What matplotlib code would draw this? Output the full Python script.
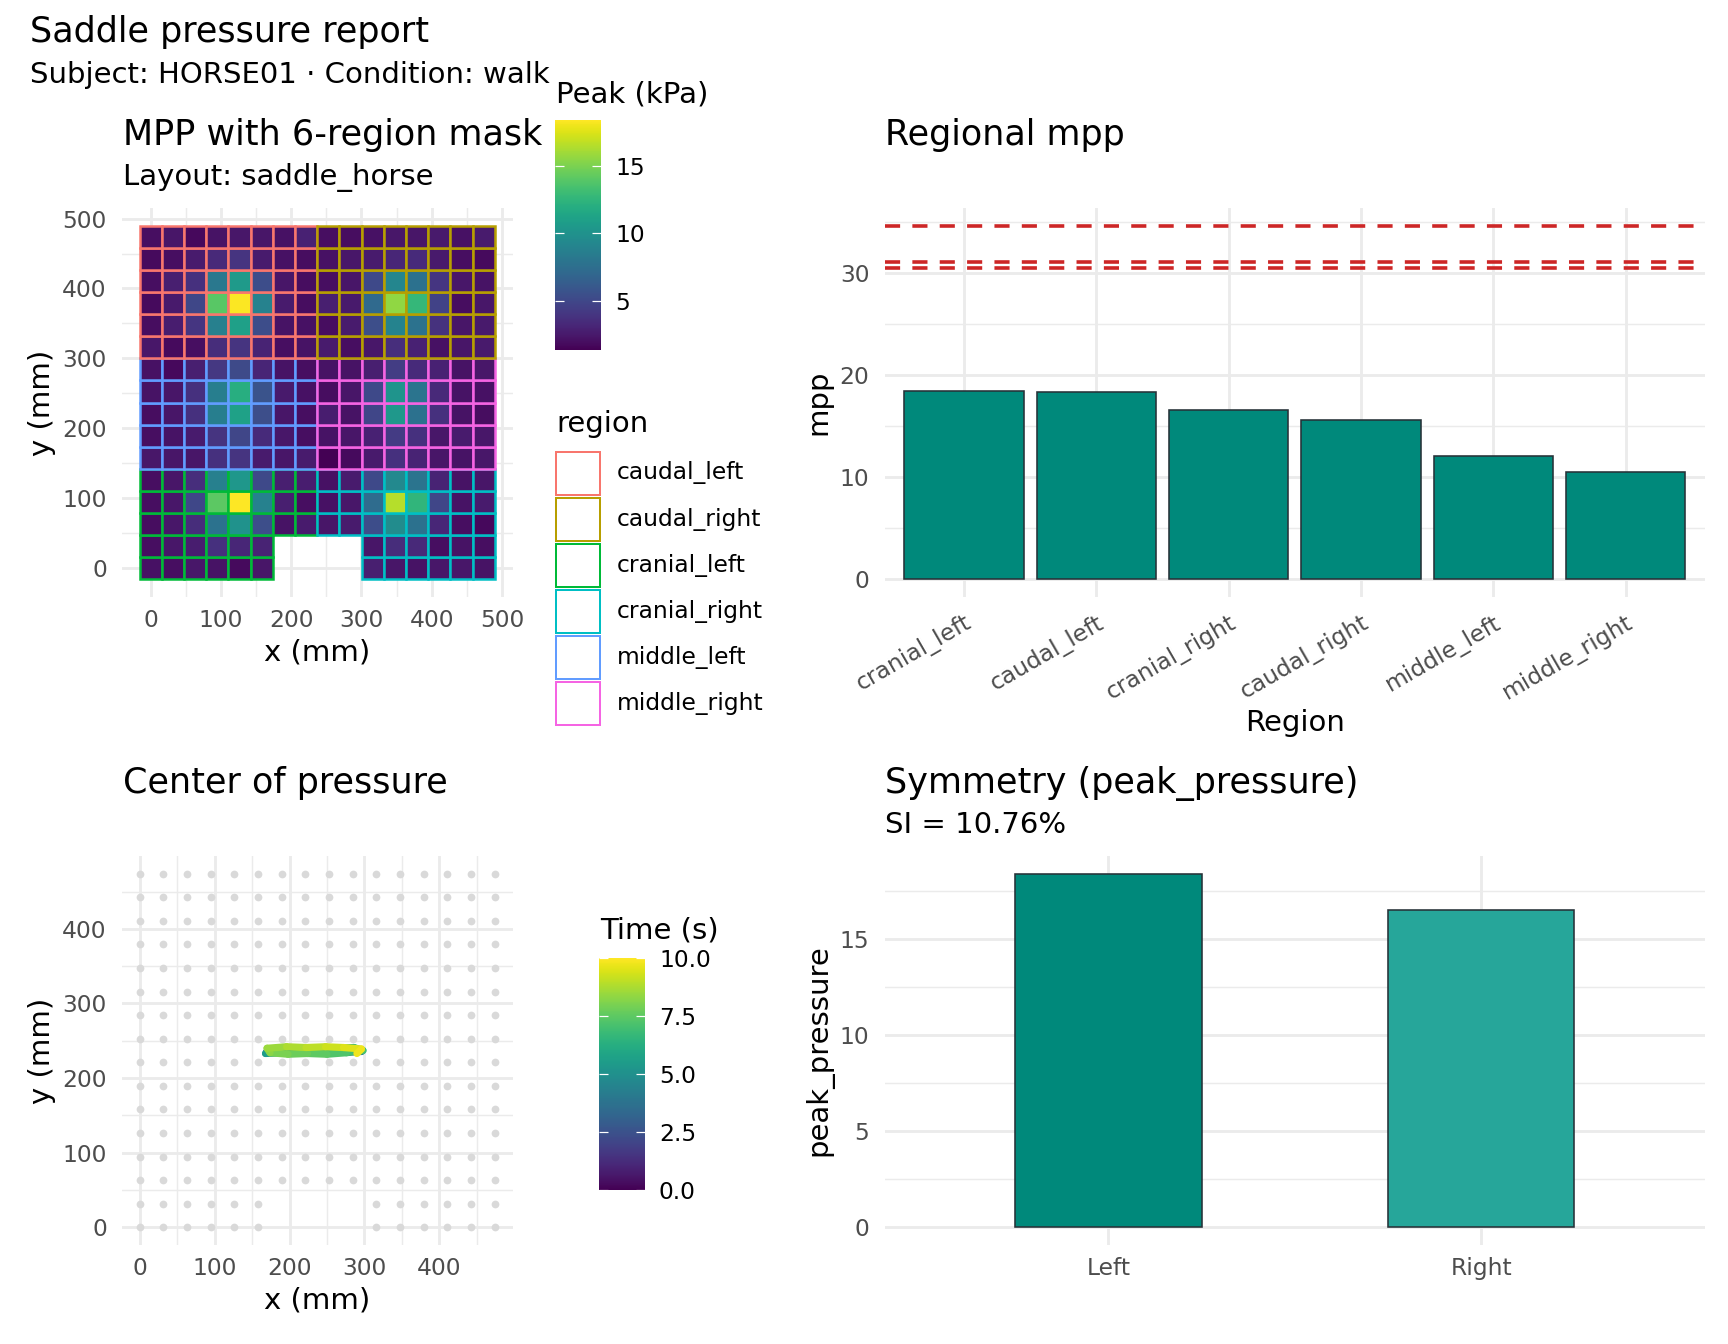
import numpy as np
import matplotlib
matplotlib.use("Agg")
import matplotlib.pyplot as plt
from matplotlib.collections import LineCollection
from matplotlib.colors import Normalize
from matplotlib.patches import Rectangle
from matplotlib.cm import ScalarMappable

# ---- data -----------------------------------------------------------------
sensor_x = [0.0, 31.6, 63.2, 94.8, 126.4, 158.0, 189.6, 221.2,
            252.8, 284.4, 316.0, 347.6, 379.2, 410.8, 442.4, 474.0]
sensor_y = [0.0, 31.6, 63.2, 94.8, 126.4, 158.0, 189.6, 221.2,
            252.8, 284.4, 316.0, 347.6, 379.2, 410.8, 442.4, 474.0]
pitch = 31.6
nan = np.nan

# peak pressure (kPa), rows listed from top (y=474) to bottom (y=0)
peak_rows = [
    [2.0, 2.3, 1.7, 2.2, 2.4, 2.3, 2.1, 2.9, 2.0, 1.9, 2.1, 2.4, 2.3, 2.5, 2.1, 2.6],
    [1.8, 2.0, 2.6, 3.3, 3.9, 2.6, 2.1, 1.9, 2.1, 2.4, 2.6, 3.2, 3.4, 2.5, 2.0, 1.8],
    [2.0, 2.8, 3.7, 8.2, 10.6, 5.3, 2.3, 1.9, 2.0, 2.3, 5.1, 9.2, 7.7, 4.0, 2.4, 2.2],
    [1.8, 2.5, 5.0, 14.0, 18.31, 8.9, 2.6, 1.9, 2.8, 2.5, 7.2, 15.56, 12.7, 4.7, 1.9, 2.4],
    [1.9, 2.7, 4.0, 8.7, 11.0, 5.3, 2.2, 2.1, 1.9, 2.6, 5.4, 9.0, 7.8, 3.8, 2.3, 2.5],
    [2.4, 1.8, 2.0, 3.5, 3.9, 3.0, 2.0, 2.2, 2.6, 2.0, 2.4, 3.6, 2.9, 2.1, 2.3, 2.5],
    [2.1, 1.7, 2.8, 4.1, 5.2, 3.1, 2.2, 2.0, 2.2, 2.2, 2.8, 4.4, 3.4, 2.9, 2.2, 2.4],
    [2.2, 2.3, 3.7, 8.6, 12.03, 5.7, 2.5, 2.1, 1.9, 2.3, 5.1, 10.2, 7.9, 3.3, 2.2, 2.1],
    [1.9, 2.3, 3.7, 8.6, 11.1, 5.4, 2.3, 2.0, 2.7, 2.2, 4.9, 10.46, 7.7, 3.7, 2.2, 1.9],
    [2.0, 2.2, 2.6, 3.9, 4.9, 3.4, 2.4, 2.0, 2.2, 2.3, 2.9, 4.3, 3.7, 2.4, 2.6, 2.4],
    [2.4, 2.3, 2.3, 3.7, 3.9, 2.6, 2.3, 2.6, 1.34, 1.8, 2.5, 3.7, 3.0, 2.3, 2.2, 2.4],
    [2.0, 2.3, 3.6, 8.7, 10.4, 5.1, 2.8, 2.7, 2.1, 2.6, 5.1, 9.4, 7.9, 3.0, 2.2, 2.3],
    [2.0, 2.4, 5.0, 14.1, 18.40, 8.8, 2.8, 2.0, 2.1, 2.4, 7.3, 16.53, 12.5, 4.9, 2.2, 2.6],
    [1.9, 2.4, 3.5, 7.8, 10.0, 5.4, 2.2, 2.6, 2.3, 2.6, 5.3, 9.6, 7.7, 3.2, 2.0, 1.7],
    [2.0, 2.4, 2.7, 3.7, 3.2, 3.0, nan, nan, nan, nan, 2.3, 3.5, 3.3, 2.0, 2.2, 2.0],
    [2.1, 2.0, 2.4, 2.2, 1.8, 2.3, nan, nan, nan, nan, 2.8, 2.3, 2.2, 2.4, 2.4, 2.2],
]

# region mask: zone per sensor row (bottom -> top), side split at column 8
row_zone = ["cranial"] * 5 + ["middle"] * 5 + ["caudal"] * 6
split_col = 8
region_names = ["caudal_left", "caudal_right", "cranial_left",
                "cranial_right", "middle_left", "middle_right"]
region_colors = ["#F8766D", "#B79F00", "#00BA38", "#00BFC4", "#619CFF", "#F564E3"]

# regional mpp
bar_regions = ["cranial_left", "caudal_left", "cranial_right",
               "caudal_right", "middle_left", "middle_right"]
bar_mpp = [18.40, 18.31, 16.53, 15.56, 12.03, 10.46]
threshold_lines = [34.6, 31.08, 30.42]

# symmetry
sym_sides = ["Left", "Right"]
sym_values = [18.40, 16.53]
sym_colors = ["#00897B", "#26A69A"]
si_text = "SI = 10.76%"

# centre of pressure trace
cop_t = [0.0, 0.25, 0.5, 0.75, 1.0, 1.25, 1.5, 1.75, 2.0, 2.25, 2.5, 2.75,
         3.0, 3.25, 3.5, 3.75, 4.0, 4.25, 4.5, 4.75, 5.0, 5.25, 5.5, 5.75,
         6.0, 6.25, 6.5, 6.75, 7.0, 7.25, 7.5, 7.75, 8.0, 8.25, 8.5, 8.75,
         9.0, 9.25, 9.5, 9.75, 10.0]
cop_x = [205, 230, 255, 280, 294, 280, 255, 230, 205, 180, 170, 190,
         215, 240, 265, 290, 296, 272, 246, 220, 195, 172, 168, 190,
         214, 238, 262, 286, 298, 276, 250, 224, 198, 174, 170, 196,
         222, 248, 272, 296, 290]
cop_y = [237, 238, 237, 238, 236, 235, 236, 237, 236, 237, 236, 238,
         237, 236, 237, 238, 236, 236, 237, 238, 239, 237, 233, 234,
         236, 239, 240, 241, 237, 234, 232, 233, 232, 234, 240, 242,
         241, 242, 241, 239, 233]

# ---- layout helpers (pixel coords of a 1728x1344 canvas) ------------------
W, H = 1728, 1344
fig = plt.figure(figsize=(W / 144, H / 144), dpi=144)
plt.rcParams["font.family"] = "DejaVu Sans"

TITLE = 17.5
BASE = 14.58
SMALL = 11.67

def rect(left, top, right, bottom):
    return [left / W, 1 - bottom / H, (right - left) / W, (bottom - top) / H]

def ftext(x, y, s, **kw):
    kw.setdefault("va", "baseline")
    return fig.text(x / W, 1 - y / H, s, **kw)

GRID = "#EBEBEB"
TICK = "#4D4D4D"

def minimal(ax, pad_x=6.0, pad_y=7.6):
    for sp in ax.spines.values():
        sp.set_visible(False)
    ax.set_axisbelow(True)
    ax.grid(True, which="major", color=GRID, linewidth=1.42)
    ax.grid(True, which="minor", color=GRID, linewidth=0.71)
    ax.tick_params(which="both", length=0, labelsize=SMALL, labelcolor=TICK)
    ax.tick_params(axis="x", pad=pad_x)
    ax.tick_params(axis="y", pad=pad_y)

def expand(lo, hi, frac=0.05):
    d = (hi - lo) * frac
    return lo - d, hi + d

def colourbar(norm, box, ticks, labels=None):
    cax = fig.add_axes(rect(*box))
    cb = fig.colorbar(ScalarMappable(norm=norm, cmap=viridis), cax=cax)
    cb.outline.set_visible(False)
    cb.set_ticks(ticks)
    if labels is not None:
        cb.set_ticklabels(labels)
    cax.tick_params(axis="y", direction="in", length=4.5, width=0.6,
                    color="white", left=True, right=True, labelsize=SMALL,
                    labelcolor="black", pad=7)
    return cb

viridis = plt.get_cmap("viridis")
peak = np.array(peak_rows)[::-1]
pnorm = Normalize(np.nanmin(peak), np.nanmax(peak))

# ---- panel 1: MPP heatmap -------------------------------------------------
ax1 = fig.add_axes(rect(122, 208, 512.5, 597))
minimal(ax1)
xs, ys, vs, ecs = [], [], [], []
for r in range(len(sensor_y)):
    for c in range(len(sensor_x)):
        v = peak[r, c]
        if np.isnan(v):
            continue
        side = "left" if c < split_col else "right"
        name = row_zone[r] + "_" + side
        xs.append(sensor_x[c])
        ys.append(sensor_y[r])
        vs.append(v)
        ecs.append(region_colors[region_names.index(name)])
xs = np.array(xs)
ys = np.array(ys)
ax1.bar(xs, pitch, width=pitch, bottom=ys - pitch / 2,
        color=viridis(pnorm(np.array(vs))), edgecolor=ecs, linewidth=1.25)
lim1 = expand(min(sensor_x) - pitch / 2, max(sensor_x) + pitch / 2)
ax1.set_xlim(lim1)
ax1.set_ylim(lim1)
ax1.set_xticks([0, 100, 200, 300, 400, 500])
ax1.set_yticks([0, 100, 200, 300, 400, 500])
ax1.set_xticks([50, 150, 250, 350, 450], minor=True)
ax1.set_yticks([50, 150, 250, 350, 450], minor=True)
ax1.tick_params(which="minor", labelbottom=False, labelleft=False)

ftext(122.6, 145, "MPP with 6-region mask", fontsize=TITLE)
ftext(122.6, 185, "Layout: saddle_horse", fontsize=BASE)
ftext(317, 660, "x (mm)", fontsize=BASE, ha="center")
ftext(49.5, 402.5, "y (mm)", fontsize=BASE, ha="center", rotation=90,
      rotation_mode="anchor")

# peak colourbar
colourbar(pnorm, (555, 120, 601, 350), [5, 10, 15])
ftext(556, 102.3, "Peak (kPa)", fontsize=BASE)

# region legend (keys drawn as outlined boxes)
ftext(556, 432, "region", fontsize=BASE)
lax = fig.add_axes(rect(540, 440, 780, 740))
lax.set_xlim(540, 780)
lax.set_ylim(740, 440)
lax.axis("off")
for i, (name, col) in enumerate(zip(region_names, region_colors)):
    top = 451 + 46.1 * i
    lax.add_patch(Rectangle((555.5, top + 0.5), 44.5, 43, facecolor="white",
                            edgecolor=col, linewidth=1.0))
    lax.text(616.7, top + 22, name, fontsize=SMALL, va="center", ha="left")

# ---- panel 2: regional mpp ------------------------------------------------
ax2 = fig.add_axes(rect(884.6, 208, 1705, 597))
minimal(ax2)
pos2 = np.arange(len(bar_regions))
ax2.bar(pos2, bar_mpp, width=0.9, color="#00897B", edgecolor="#263238",
        linewidth=0.8)
for yv in threshold_lines:
    ax2.axhline(yv, color="#CD2626", linewidth=1.8, dashes=(4.2, 3.4))
ax2.set_xlim(-0.6, len(bar_regions) - 0.4)
ax2.set_ylim(expand(0, max(max(bar_mpp), max(threshold_lines))))
ax2.set_xticks(pos2)
ax2.set_xticklabels(bar_regions, rotation=30, ha="right", va="top",
                    rotation_mode="anchor")
ax2.tick_params(axis="x", pad=7)
ax2.set_yticks([0, 10, 20, 30])
ax2.set_yticks([5, 15, 25, 35], minor=True)
ax2.tick_params(which="minor", labelleft=False)
ftext(885, 145, "Regional mpp", fontsize=TITLE)
ftext(1294.8, 731, "Region", fontsize=BASE, ha="center")
ftext(826.5, 402.5, "mpp", fontsize=BASE, ha="center", rotation=90,
      rotation_mode="anchor")

# ---- panel 3: centre of pressure ------------------------------------------
ax3 = fig.add_axes(rect(122, 856, 512.5, 1245))
minimal(ax3)
mask = ~np.isnan(peak)
gx, gy = np.meshgrid(sensor_x, sensor_y)
ax3.scatter(gx[mask], gy[mask], s=15, color="#D9D9D9", linewidths=0, zorder=2)
pts = np.column_stack([cop_x, cop_y]).astype(float)
segs = np.stack([pts[:-1], pts[1:]], axis=1)
tnorm = Normalize(0, 10)
lc = LineCollection(segs, cmap=viridis, norm=tnorm, linewidth=3.6,
                    capstyle="round", joinstyle="round", zorder=3)
lc.set_array(np.array(cop_t[:-1]))
ax3.add_collection(lc)
ax3.set_xlim(expand(min(sensor_x), max(sensor_x)))
ax3.set_ylim(expand(min(sensor_y), max(sensor_y)))
ax3.set_xticks([0, 100, 200, 300, 400])
ax3.set_yticks([0, 100, 200, 300, 400])
ax3.set_xticks([50, 150, 250, 350, 450], minor=True)
ax3.set_yticks([50, 150, 250, 350, 450], minor=True)
ax3.tick_params(which="minor", labelbottom=False, labelleft=False)
ftext(122.6, 793, "Center of pressure", fontsize=TITLE)
ftext(317, 1308, "x (mm)", fontsize=BASE, ha="center")
ftext(49.5, 1050.5, "y (mm)", fontsize=BASE, ha="center", rotation=90,
      rotation_mode="anchor")

colourbar(tnorm, (599, 958, 645, 1190), [0, 2.5, 5, 7.5, 10],
          ["0.0", "2.5", "5.0", "7.5", "10.0"])
ftext(600, 939, "Time (s)", fontsize=BASE)

# ---- panel 4: symmetry ----------------------------------------------------
ax4 = fig.add_axes(rect(884.6, 856, 1705, 1245))
minimal(ax4)
pos4 = np.arange(len(sym_sides))
ax4.bar(pos4, sym_values, width=0.5, color=sym_colors, edgecolor="#263238",
        linewidth=0.8)
ax4.set_xlim(-0.6, len(sym_sides) - 0.4)
ax4.set_ylim(expand(0, max(sym_values)))
ax4.set_xticks(pos4)
ax4.set_xticklabels(sym_sides)
ax4.set_yticks([0, 5, 10, 15])
ax4.set_yticks([2.5, 7.5, 12.5, 17.5], minor=True)
ax4.tick_params(which="minor", labelleft=False)
ftext(885, 793, "Symmetry (peak_pressure)", fontsize=TITLE)
ftext(885, 833, si_text, fontsize=BASE)
ftext(826.5, 1050.5, "peak_pressure", fontsize=BASE, ha="center", rotation=90,
      rotation_mode="anchor")

# ---- overall title --------------------------------------------------------
ftext(30, 41.7, "Saddle pressure report", fontsize=TITLE)
ftext(30, 82.7, "Subject: HORSE01 \u00b7 Condition: walk", fontsize=BASE)

fig.savefig("out.png", dpi=144, facecolor="white")
